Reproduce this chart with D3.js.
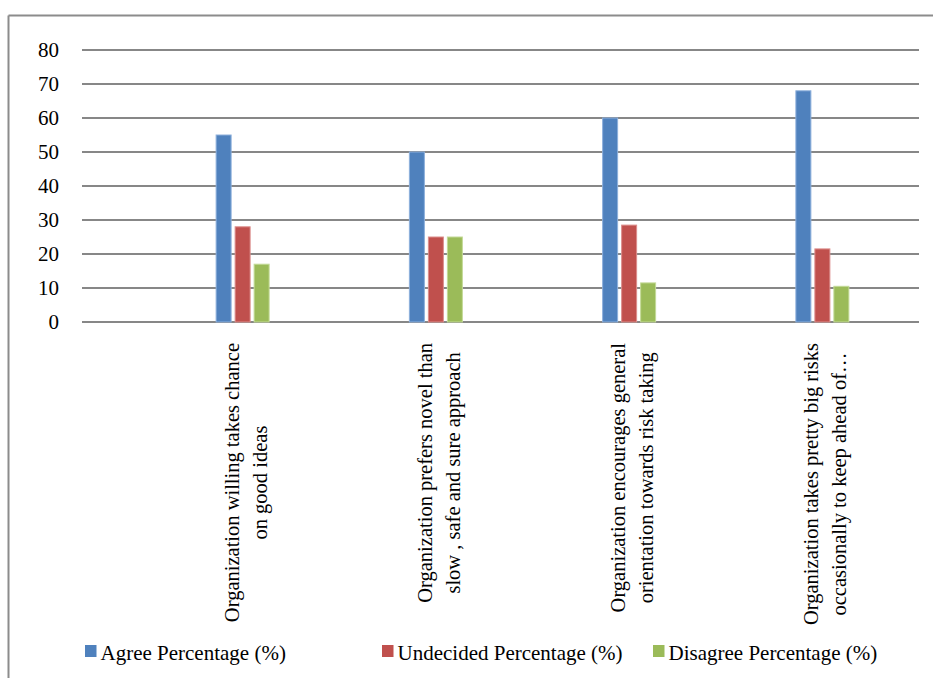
<!DOCTYPE html>
<html>
<head>
<meta charset="utf-8">
<script src="https://cdn.jsdelivr.net/npm/d3@7"></script>
<style>
  html, body { margin: 0; padding: 0; background: #ffffff; }
  svg { display: block; }
</style>
</head>
<body>
<svg id="chart" width="933" height="678"></svg>
<script>
// Survey statements (each label split into its wrapped lines)
const categories = [
  "Organization willing takes chance on good ideas",
  "Organization prefers novel than slow , safe and sure approach",
  "Organization encourages general orientation towards risk taking",
  "Organization takes pretty big risks occasionally to keep ahead of…"
];
const categoryLines = [
  ["Organization willing takes chance", "on good ideas"],
  ["Organization prefers novel than", "slow , safe and sure approach"],
  ["Organization encourages general", "orientation towards risk taking"],
  ["Organization takes pretty big risks", "occasionally to keep ahead of…"]
];
const seriesNames = ["Agree Percentage (%)", "Undecided Percentage (%)", "Disagree Percentage (%)"];
const agree = [55, 50, 60, 68];
const undecided = [28, 25, 28.5, 21.5];
const disagree = [17, 25, 11.5, 10.5];
const yTicks = [0, 10, 20, 30, 40, 50, 60, 70, 80];
const colors = ["#4F81BD", "#C0504D", "#9BBB59"];
const outlines = ["#8DB0DC", "#DC8E8C", "#C3DA97"];

const seriesValues = [agree, undecided, disagree];
const FONT = "'Liberation Serif', 'Times New Roman', Tinos, serif";

const svg = d3.select("#chart")
  .attr("font-family", FONT)
  .style("font-family", FONT);

// outer frame (top and left edges)
svg.append("line").attr("x1", 8.5).attr("x2", 933).attr("y1", 15.5).attr("y2", 15.5)
  .attr("stroke", "#8c8c8c").attr("stroke-width", 2);
svg.append("line").attr("x1", 8.5).attr("x2", 8.5).attr("y1", 15.5).attr("y2", 678)
  .attr("stroke", "#8c8c8c").attr("stroke-width", 2);

const gridLeft = 82, gridRight = 919;
const y = d3.scaleLinear().domain([0, 80]).range([322, 50]);
const x0 = d3.scaleBand().domain(categories).range([146, 919]);
const x1 = d3.scaleBand().domain(seriesNames).range([-28.5, 28.5])
  .paddingInner(4 / 19).paddingOuter(2 / 19);

// horizontal gridlines
svg.append("g").selectAll("line").data(yTicks).join("line")
  .attr("x1", gridLeft).attr("x2", gridRight)
  .attr("y1", d => y(d)).attr("y2", d => y(d))
  .attr("stroke", "#878787").attr("stroke-width", 2);

// y tick labels
svg.append("g").selectAll("text").data(yTicks).join("text")
  .attr("x", 59).attr("y", d => y(d) + 7)
  .attr("text-anchor", "end")
  .style("font-family", FONT)
  .style("font-size", "21px")
  .text(d => d);

// bars
const groups = svg.append("g").selectAll("g").data(categories).join("g")
  .attr("transform", c => `translate(${x0(c) + x0.bandwidth() / 2},0)`);

groups.each(function (c, ci) {
  d3.select(this).selectAll("rect").data(seriesNames).join("rect")
    .attr("x", s => x1(s))
    .attr("width", x1.bandwidth())
    .attr("y", (s, si) => y(seriesValues[si][ci]))
    .attr("height", (s, si) => y(0) - y(seriesValues[si][ci]))
    .attr("fill", (s, si) => colors[si])
    .attr("stroke", (s, si) => outlines[si])
    .attr("stroke-width", 1);
});

// rotated category labels, lines centred within each block
const labelTop = 343;
groups.each(function (c, ci) {
  const g = d3.select(this).append("g")
    .attr("transform", `translate(0,${labelTop}) rotate(-90)`);
  const texts = g.selectAll("text").data(categoryLines[ci]).join("text")
    .attr("y", (d, i) => -4 + i * 28)
    .attr("text-anchor", "middle")
    .style("font-family", FONT)
    .style("font-size", "20.5px")
    .text(d => d);
  let maxW = 0;
  texts.each(function () { maxW = Math.max(maxW, this.getComputedTextLength()); });
  texts.attr("x", -maxW / 2);
});

// legend
const legendX = [85, 382, 653];
const legend = svg.append("g").selectAll("g").data(seriesNames).join("g")
  .attr("transform", (d, i) => `translate(${legendX[i]},645)`);
legend.append("rect").attr("width", 11.5).attr("height", 12)
  .attr("fill", (d, i) => colors[i]);
legend.append("text").attr("x", 15.5).attr("y", 15)
  .style("font-family", FONT)
  .style("font-size", "21px")
  .text(d => d);
</script>
</body>
</html>
